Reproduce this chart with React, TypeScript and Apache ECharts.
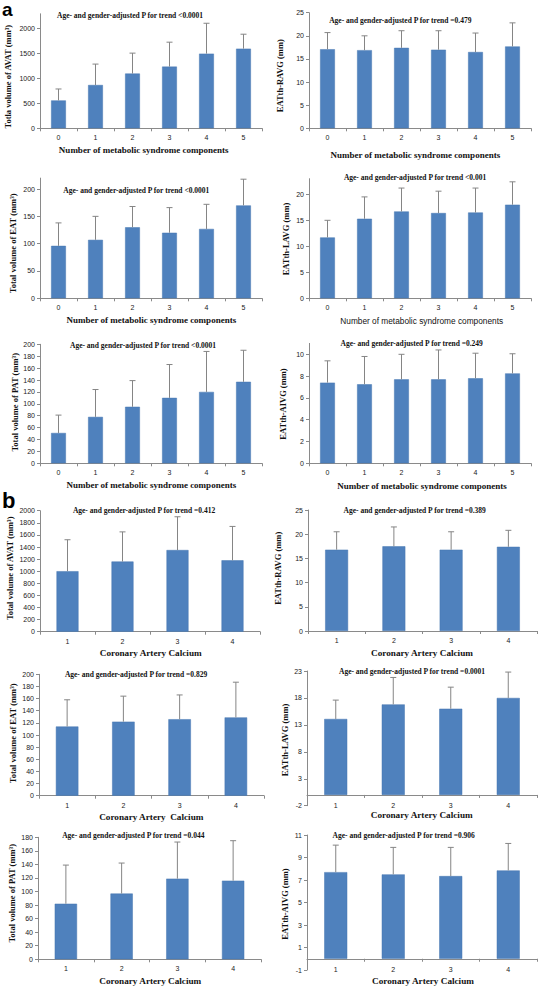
import React, { useEffect, useRef } from 'react';
import * as echarts from 'echarts';

// ---------- data ----------
const catsMet = ['0', '1', '2', '3', '4', '5'];
const catsCac = ['1', '2', '3', '4'];

const avatMetMean = [560, 870, 1100, 1240, 1500, 1600];
const avatMetUpper = [790, 1290, 1510, 1730, 2110, 1890];
const ravgMetMean = [17.1, 16.9, 17.4, 17.0, 16.5, 17.7];
const ravgMetUpper = [20.7, 20.0, 21.1, 21.1, 20.6, 22.8];
const eatMetMean = [96, 107, 130, 120, 127, 170];
const eatMetUpper = [138, 150, 168, 166, 172, 218];
const lavgMetMean = [11.7, 15.3, 16.7, 16.4, 16.5, 18.0];
const lavgMetUpper = [15.0, 19.5, 21.2, 20.6, 21.2, 22.4];
const patMetMean = [51, 78, 95, 110, 120, 137];
const patMetUpper = [81, 124, 139, 166, 188, 190];
const aivgMetMean = [7.4, 7.25, 7.7, 7.7, 7.8, 8.25];
const aivgMetUpper = [9.4, 9.8, 10.0, 10.4, 10.1, 10.05];

const avatCacMean = [1000, 1160, 1350, 1180];
const avatCacUpper = [1520, 1650, 1900, 1740];
const ravgCacMean = [16.8, 17.5, 16.8, 17.4];
const ravgCacUpper = [20.5, 21.5, 20.5, 20.8];
const eatCacMean = [114, 122, 126, 129];
const eatCacUpper = [158, 164, 166, 187];
const lavgCacMean = [14.1, 16.8, 16.0, 18.0];
const lavgCacUpper = [17.6, 21.8, 20.0, 22.8];
const patCacMean = [82, 97, 119, 116];
const patCacUpper = [139, 142, 173, 175];
const aivgCacMean = [7.7, 7.5, 7.35, 7.85];
const aivgCacUpper = [10.1, 9.9, 9.9, 10.25];

const trendTexts = [
  'Age- and gender-adjusted P for trend <0.0001',
  'Age- and gender-adjusted P for trend =0.479',
  'Age- and gender-adjusted P for trend <0.0001',
  'Age- and gender-adjusted P for trend <0.001',
  'Age- and gender-adjusted P for trend <0.0001',
  'Age- and gender-adjusted P for trend =0.249',
  'Age- and gender-adjusted P for trend =0.412',
  'Age- and gender-adjusted P for trend =0.389',
  'Age- and gender-adjusted P for trend =0.829',
  'Age- and gender-adjusted P for trend =0.0001',
  'Age- and gender-adjusted P for trend =0.044',
  'Age- and gender-adjusted P for trend =0.906',
];

const yNames = [
  'Totla volume of AVAT (mm³)',
  'EATth-RAVG (mm)',
  'Total volume of EAT (mm³)',
  'EATth-LAVG (mm)',
  'Total volume of PAT (mm³)',
  'EATth-AIVG (mm)',
  'Total volume of AVAT (mm³)',
  'EATth-RAVG (mm)',
  'Total volume of EAT (mm³)',
  'EATth-LAVG (mm)',
  'Total volume of PAT (mm³)',
  'EATth-AIVG (mm)',
];

const xNameMet = 'Number of metabolic syndrome components';
const xNameCac = 'Coronary Artery Calcium';
const xNameCac2 = 'Coronary Artery  Calcium';

// ---------- layout / style ----------
const SERIF = '"Times New Roman", "Liberation Serif", serif';
const SANS = 'Arial, "Liberation Sans", sans-serif';
const AXIS = '#8a8a8a';
const BAR = '#4F81BD';
const ERR = '#858585';

type Panel = {
  cats: string[]; mean: number[]; upper: number[]; xName: string; xSans?: boolean;
  left: number; top: number; width: number; height: number;
  min: number; max: number; interval: number; hideMax?: boolean; labelMargin?: number;
  tx: number; ty: number; yx: number; yy: number; xx: number; xy: number;
};

const panels: Panel[] = [
  { cats: catsMet, mean: avatMetMean, upper: avatMetUpper, xName: xNameMet,
    left: 40, top: 13.8, width: 222, height: 114.5, min: 0, max: 2300, interval: 500, hideMax: true,
    tx: 130, ty: 15, yx: 8.3, yy: 76.7, xx: 143.7, xy: 150 },
  { cats: catsMet, mean: ravgMetMean, upper: ravgMetUpper, xName: xNameMet,
    left: 309, top: 12.7, width: 222, height: 115.6, min: 0, max: 25, interval: 5,
    tx: 400.3, ty: 20, yx: 280, yy: 75.7, xx: 415.3, xy: 155 },
  { cats: catsMet, mean: eatMetMean, upper: eatMetUpper, xName: xNameMet,
    left: 40, top: 178.1, width: 222, height: 120.2, min: 0, max: 220, interval: 50, hideMax: true,
    tx: 136.3, ty: 190, yx: 13.3, yy: 243.3, xx: 151.3, xy: 320 },
  { cats: catsMet, mean: lavgMetMean, upper: lavgMetUpper, xName: xNameMet, xSans: true,
    left: 309, top: 178.7, width: 222, height: 119.6, min: 0, max: 23, interval: 5, hideMax: true,
    tx: 415, ty: 177.3, yx: 286, yy: 239, xx: 421.7, xy: 320.7 },
  { cats: catsMet, mean: patMetMean, upper: patMetUpper, xName: xNameMet,
    left: 40, top: 344.3, width: 222, height: 119, min: 0, max: 200, interval: 20,
    tx: 143, ty: 345, yx: 15, yy: 402.3, xx: 151.3, xy: 485 },
  { cats: catsMet, mean: aivgMetMean, upper: aivgMetUpper, xName: xNameMet,
    left: 309, top: 343.4, width: 222, height: 119.9, min: 0, max: 11, interval: 2, hideMax: true,
    tx: 411.7, ty: 343.3, yx: 283.3, yy: 404, xx: 422, xy: 485.7 },
  { cats: catsCac, mean: avatCacMean, upper: avatCacUpper, xName: xNameCac,
    left: 40, top: 510.7, width: 220, height: 121, min: 0, max: 2000, interval: 200,
    tx: 144, ty: 510.7, yx: 10, yy: 568.3, xx: 150.7, xy: 653.3 },
  { cats: catsCac, mean: ravgCacMean, upper: ravgCacUpper, xName: xNameCac,
    left: 308, top: 510, width: 229, height: 121, min: 0, max: 25, interval: 5,
    tx: 414.7, ty: 510, yx: 278.3, yy: 568.3, xx: 422, xy: 652.7 },
  { cats: catsCac, mean: eatCacMean, upper: eatCacUpper, xName: xNameCac2,
    left: 39, top: 674.3, width: 225, height: 121.4, min: 0, max: 200, interval: 20,
    tx: 136, ty: 674, yx: 13.3, yy: 733.3, xx: 151.3, xy: 817.3 },
  { cats: catsCac, mean: lavgCacMean, upper: lavgCacUpper, xName: xNameCac,
    left: 307, top: 671, width: 230, height: 134.7, min: -2, max: 23, interval: 5, labelMargin: -4,
    tx: 412, ty: 671, yx: 285, yy: 740, xx: 421.7, xy: 815 },
  { cats: catsCac, mean: patCacMean, upper: patCacUpper, xName: xNameCac,
    left: 38, top: 837.3, width: 223, height: 122, min: 0, max: 180, interval: 20,
    tx: 133.3, ty: 835, yx: 11.7, yy: 893.3, xx: 150.3, xy: 980.7 },
  { cats: catsCac, mean: aivgCacMean, upper: aivgCacUpper, xName: xNameCac,
    left: 307, top: 835, width: 230, height: 135, min: -1, max: 11, interval: 2, labelMargin: -4,
    tx: 403.7, ty: 835, yx: 285, yy: 904, xx: 423, xy: 981 },
];

function buildOption(): any {
  const grid = panels.map((p) => ({
    left: p.left, top: p.top, width: p.width, height: p.height,
    containLabel: false, outerBoundsMode: 'none',
  }));
  const xAxis = panels.map((p, i) => ({
    type: 'category', gridIndex: i, data: p.cats,
    axisLine: { show: true, onZero: true, lineStyle: { color: AXIS, width: 1 } },
    axisTick: { show: true, length: 3, alignWithLabel: false, lineStyle: { color: AXIS } },
    axisLabel: { fontSize: 7, color: '#222', fontFamily: SANS, margin: p.labelMargin ?? 6 },
    splitLine: { show: false },
  }));
  const yAxis = panels.map((p, i) => ({
    type: 'value', gridIndex: i, min: p.min, max: p.max, interval: p.interval,
    axisLine: { show: true, lineStyle: { color: AXIS, width: 1 } },
    axisTick: { show: true, length: 3, lineStyle: { color: AXIS } },
    axisLabel: {
      fontSize: 7, color: '#222', fontFamily: SANS, margin: 5,
      showMaxLabel: p.hideMax ? false : undefined,
      formatter: (v: number) => String(v),
    },
    splitLine: { show: false },
  }));
  const series: any[] = [];
  panels.forEach((p, i) => {
    series.push({
      type: 'bar', xAxisIndex: i, yAxisIndex: i, data: p.mean, barWidth: '40%',
      itemStyle: { color: BAR, borderColor: '#4677b0', borderWidth: 0.5 },
      silent: true, z: 2,
    });
    series.push({
      type: 'custom', xAxisIndex: i, yAxisIndex: i, silent: true, z: 3,
      data: p.mean.map((m, k) => [k, m, p.upper[k]]),
      encode: { x: 0, y: [1, 2] },
      renderItem: (_params: any, api: any) => {
        const base = api.coord([api.value(0), api.value(1)]);
        const top = api.coord([api.value(0), api.value(2)]);
        const st = { stroke: ERR, lineWidth: 1 };
        return {
          type: 'group',
          children: [
            { type: 'line', shape: { x1: base[0], y1: base[1], x2: top[0], y2: top[1] }, style: st },
            { type: 'line', shape: { x1: top[0] - 3, y1: top[1], x2: top[0] + 3, y2: top[1] }, style: st },
          ],
        };
      },
    });
  });

  const graphic: any[] = [];
  panels.forEach((p, i) => {
    graphic.push({
      type: 'text', x: p.tx, y: p.ty, silent: true,
      style: { text: trendTexts[i], fontSize: 7.5, fontWeight: 'bold', fontFamily: SERIF, fill: '#111',
        textAlign: 'center', textVerticalAlign: 'middle', verticalAlign: 'middle' },
    });
    graphic.push({
      type: 'text', x: p.yx, y: p.yy, rotation: Math.PI / 2, silent: true,
      style: { text: yNames[i], fontSize: 8.5, fontWeight: 'bold', fontFamily: SERIF, fill: '#111',
        textAlign: 'center', textVerticalAlign: 'middle', verticalAlign: 'middle' },
    });
    graphic.push({
      type: 'text', x: p.xx, y: p.xy, silent: true,
      style: p.xSans
        ? { text: p.xName, fontSize: 8.3, fontWeight: 'normal', fontFamily: SANS, fill: '#111',
            textAlign: 'center', textVerticalAlign: 'middle', verticalAlign: 'middle' }
        : { text: p.xName, fontSize: p.cats.length === 4 ? 9.2 : 9, fontWeight: 'bold', fontFamily: SERIF, fill: '#111',
            textAlign: 'center', textVerticalAlign: 'middle', verticalAlign: 'middle' },
    });
  });
  graphic.push({
    type: 'text', x: 2, y: 0, silent: true,
    style: { text: 'a', fontSize: 19, fontWeight: 'bold', fontFamily: SANS, fill: '#000',
      textAlign: 'left', textVerticalAlign: 'top', verticalAlign: 'top' },
  });
  graphic.push({
    type: 'text', x: 2, y: 500.6, silent: true,
    style: { text: 'b', fontSize: 22, fontWeight: 'bold', fontFamily: SANS, fill: '#000',
      textAlign: 'left', textVerticalAlign: 'middle', verticalAlign: 'middle' },
  });

  return {
    animation: false,
    backgroundColor: '#ffffff',
    grid, xAxis, yAxis, series, graphic,
  };
}

export default function App() {
  const ref = useRef<HTMLDivElement>(null);
  useEffect(() => {
    document.body.style.margin = '0';
    if (!ref.current) return;
    const chart = echarts.init(ref.current, undefined, { renderer: 'svg', width: 540, height: 992 });
    chart.setOption(buildOption());
    return () => chart.dispose();
  }, []);
  return (
    <div
      ref={ref}
      style={{ position: 'absolute', left: 0, top: 0, width: 540, height: 992, background: '#fff' }}
    />
  );
}
